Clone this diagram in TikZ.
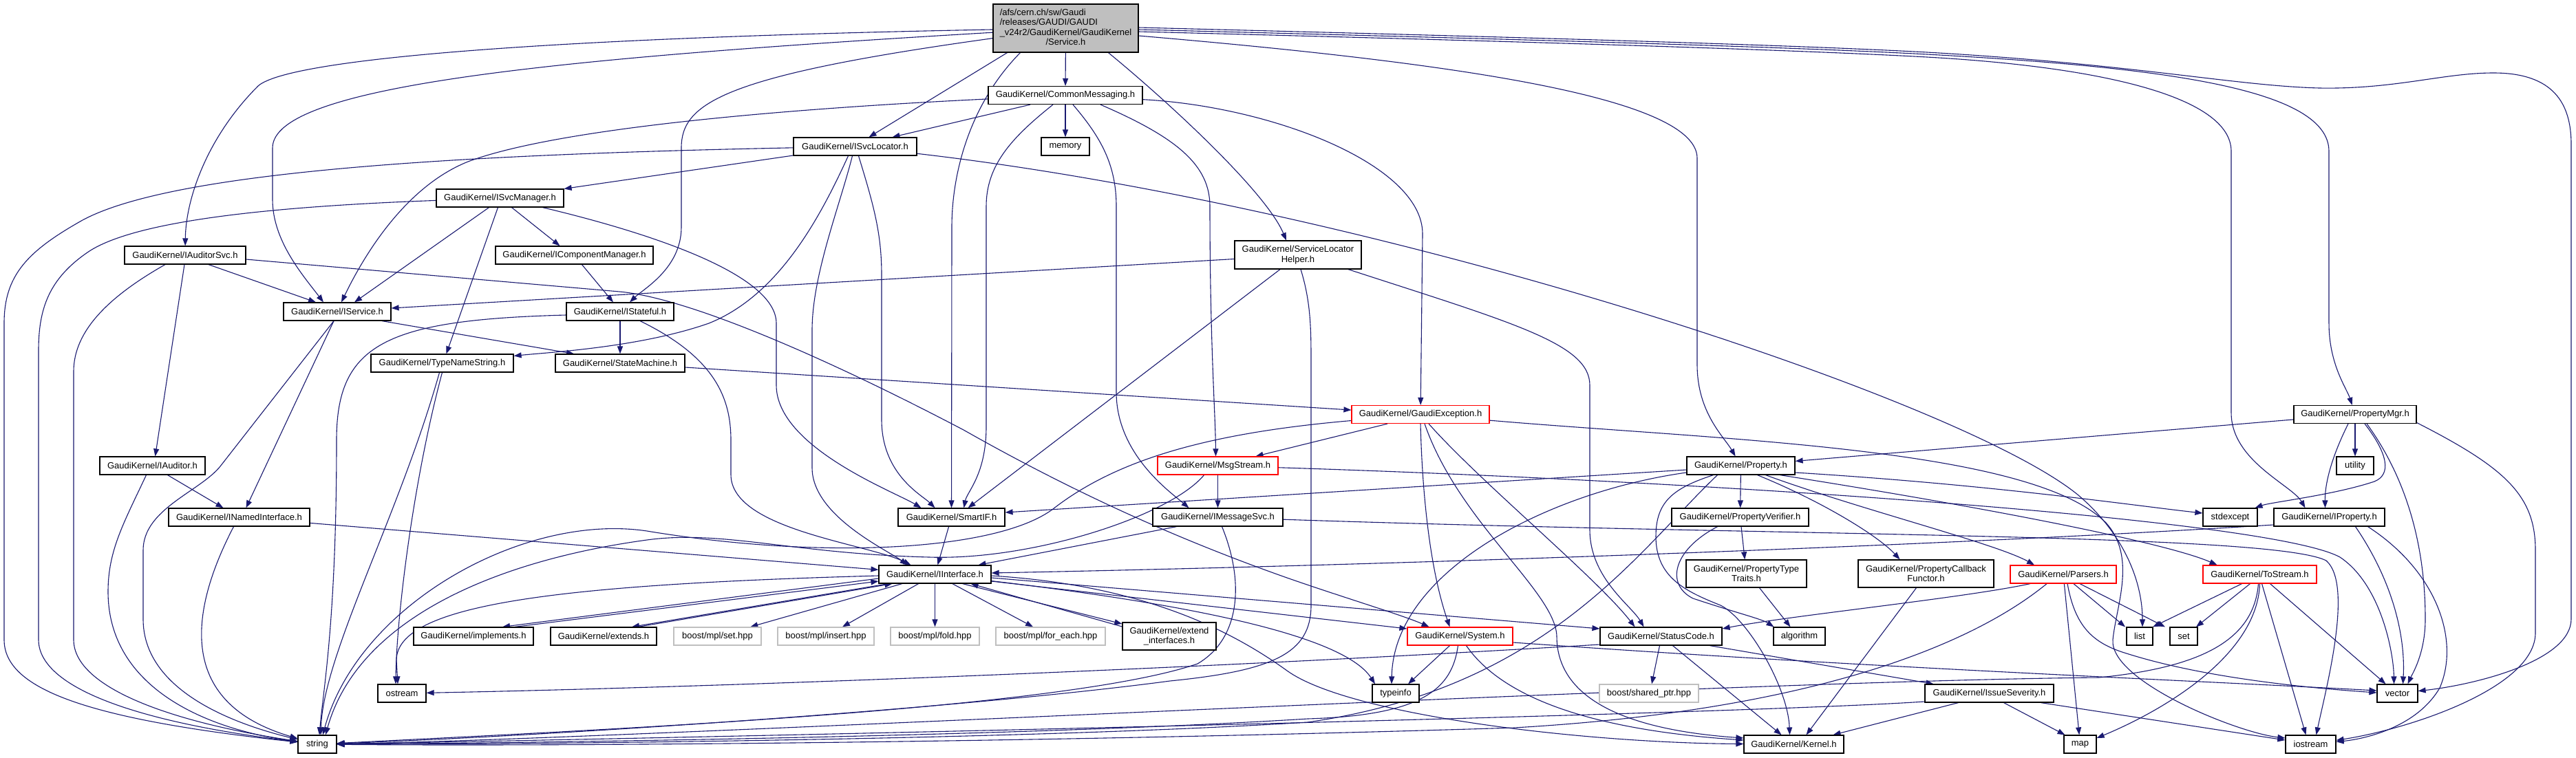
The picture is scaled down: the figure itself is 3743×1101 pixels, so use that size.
\documentclass[tikz,border=0pt]{standalone}
\usepackage{fontspec}
\setmainfont{Liberation Sans}
\usetikzlibrary{arrows.meta}
\definecolor{edgec}{HTML}{191970}
\definecolor{mgray}{HTML}{BFBFBF}
\definecolor{grayb}{HTML}{BFBFBF}
\definecolor{redb}{HTML}{FF0000}
\newcommand\nodefont{\fontsize{13}{14.3}\selectfont}
\pgfdeclarelayer{bg}
\pgfdeclarelayer{paper}
\pgfsetlayers{paper,bg,main}
\begin{document}
\begin{tikzpicture}[x=1pt,y=-1pt,
  nb/.style={draw=black,line width=1.2pt,fill=white,inner sep=0pt,minimum height=26pt,font=\nodefont,text=black},
  nbr/.style={nb,draw=redb},
  nbg/.style={nb,draw=grayb},
  e/.style={draw=edgec,line width=1.1pt,-{Triangle[length=11pt,width=8pt]}}]
\begin{pgfonlayer}{paper}
\fill[white] (0,0) rectangle (3743,1101);
\end{pgfonlayer}
\useasboundingbox (0,0) rectangle (3743,1101);
% ---------------- nodes
\node[nb,fill=mgray,minimum width=211pt,minimum height=70pt] (svc) at (1548.5,41) {\begin{tabular}{@{}l@{}}/afs/cern.ch/sw/Gaudi\\/releases/GAUDI/GAUDI\\\_v24r2/GaudiKernel/GaudiKernel\\\multicolumn{1}{@{}c@{}}{/Service.h}\end{tabular}};
\node[nb,minimum width=224pt] (CM) at (1548,138.5) {GaudiKernel/CommonMessaging.h};
\node[nb,minimum width=179pt] (ISL) at (1242.5,213) {GaudiKernel/ISvcLocator.h};
\node[nb,minimum width=70pt] (memory) at (1548,213) {memory};
\node[nb,minimum width=185pt] (ISM) at (726.5,288) {GaudiKernel/ISvcManager.h};
\node[nb,minimum width=176pt] (IAS) at (269,371) {GaudiKernel/IAuditorSvc.h};
\node[nb,minimum width=229pt] (ICM) at (834.5,371) {GaudiKernel/IComponentManager.h};
\node[nb,minimum width=184pt,minimum height=41pt,align=center] (SLH) at (1886,370.5) {GaudiKernel/ServiceLocator\\Helper.h};
\node[nb,minimum width=156pt] (ISv) at (490,453) {GaudiKernel/IService.h};
\node[nb,minimum width=156pt] (ISt) at (901,453) {GaudiKernel/IStateful.h};
\node[nb,minimum width=207pt] (TNS) at (642.5,528) {GaudiKernel/TypeNameString.h};
\node[nb,minimum width=188pt] (SM) at (901,528) {GaudiKernel/StateMachine.h};
\node[nbr,minimum width=200pt] (GE) at (2064,602.5) {GaudiKernel/GaudiException.h};
\node[nb,minimum width=178pt] (PM) at (3422,602.5) {GaudiKernel/PropertyMgr.h};
\node[nb,minimum width=153pt] (IA) at (221.5,677) {GaudiKernel/IAuditor.h};
\node[nbr,minimum width=175pt] (MS) at (1769.5,677) {GaudiKernel/MsgStream.h};
\node[nb,minimum width=157pt] (Prop) at (2529.5,677) {GaudiKernel/Property.h};
\node[nb,minimum width=54pt] (util) at (3422,677) {utility};
\node[nb,minimum width=205pt] (INI) at (347.5,752) {GaudiKernel/INamedInterface.h};
\node[nb,minimum width=155pt] (SIF) at (1382.5,752) {GaudiKernel/SmartIF.h};
\node[nb,minimum width=189pt] (IMS) at (1769.5,752) {GaudiKernel/IMessageSvc.h};
\node[nb,minimum width=199pt] (PV) at (2528.5,752) {GaudiKernel/PropertyVerifier.h};
\node[nb,minimum width=79pt] (stdx) at (3240.5,752) {stdexcept};
\node[nb,minimum width=161pt] (IP) at (3384.5,752) {GaudiKernel/IProperty.h};
\node[nb,minimum width=163pt] (II) at (1358.5,835) {GaudiKernel/IInterface.h};
\node[nb,minimum width=175pt,minimum height=40pt,align=center] (PTT) at (2537.5,834) {GaudiKernel/PropertyType\\Traits.h};
\node[nb,minimum width=197pt,minimum height=40pt,align=center] (PCF) at (2798.5,834) {GaudiKernel/PropertyCallback\\Functor.h};
\node[nbr,minimum width=154pt] (Pars) at (2998,835) {GaudiKernel/Parsers.h};
\node[nbr,minimum width=165pt] (TS) at (3283.5,835) {GaudiKernel/ToStream.h};
\node[nb,minimum width=174pt] (impl) at (688,925) {GaudiKernel/implements.h};
\node[nb,minimum width=154pt] (ext) at (877,925) {GaudiKernel/extends.h};
\node[nbg,minimum width=127pt] (bset) at (1042.5,925) {boost/mpl/set.hpp};
\node[nbg,minimum width=140pt] (bins) at (1200,925) {boost/mpl/insert.hpp};
\node[nbg,minimum width=129pt] (bfold) at (1358.5,925) {boost/mpl/fold.hpp};
\node[nbg,minimum width=159pt] (bfe) at (1526.5,925) {boost/mpl/for\_each.hpp};
\node[nb,minimum width=136pt,minimum height=40pt,align=center] (extI) at (1699,925) {GaudiKernel/extend\\\_interfaces.h};
\node[nbr,minimum width=153pt] (Sys) at (2121.5,925) {GaudiKernel/System.h};
\node[nb,minimum width=177pt] (SC) at (2413.5,925) {GaudiKernel/StatusCode.h};
\node[nb,minimum width=75pt] (algo) at (2614.5,925) {algorithm};
\node[nb,minimum width=38pt] (lst) at (3109,925) {list};
\node[nb,minimum width=40pt] (sset) at (3173,925) {set};
\node[nb,minimum width=70pt] (ostr) at (584,1008) {ostream};
\node[nb,minimum width=68pt] (tinfo) at (2028,1008) {typeinfo};
\node[nbg,minimum width=144pt] (bsp) at (2396,1008) {boost/shared\_ptr.hpp};
\node[nb,minimum width=187pt] (IS) at (2890.5,1008) {GaudiKernel/IssueSeverity.h};
\node[nb,minimum width=59pt] (vec) at (3483.5,1008) {vector};
\node[nb,minimum width=56pt] (str) at (461,1082) {string};
\node[nb,minimum width=145pt] (Ker) at (2606.5,1082) {GaudiKernel/Kernel.h};
\node[nb,minimum width=47pt] (map) at (3022.5,1082) {map};
\node[nb,minimum width=73pt] (iostr) at (3357.5,1082) {iostream};
% ---------------- edges
\begin{pgfonlayer}{bg}
% Service.h
\draw[e] (svc) .. controls (800,55) and (420,85) .. (375,125) .. controls (300,200) and (270,290) .. (IAS);
\draw[e] (svc) .. controls (800,85) and (396,125) .. (396,215) -- (396,290) .. controls (396,350) and (440,400) .. ([xshift=-20pt]ISv.north);
\draw[e] (svc) .. controls (1050,110) and (990,150) .. (990,215) -- (990,330) .. controls (990,390) and (935,420) .. (ISt);
\draw[e] ([xshift=-85pt]svc.south) -- ([xshift=20pt]ISL.north);
\draw[e] ([xshift=-66pt]svc.south) .. controls (1410,150) and (1383,250) .. (1383,330) -- (SIF);
\draw[e] (svc) -- (CM);
\draw[e] ([xshift=62pt]svc.south) .. controls (1700,150) and (1840,280) .. ([xshift=-17pt]SLH.north);
\draw[e] ([yshift=-11pt]svc.east) .. controls (2100,90) and (2466,140) .. (2466,230) -- (2466,530) .. controls (2466,600) and (2505,635) .. (Prop);
\draw[e] ([yshift=-5pt]svc.east) .. controls (2200,60) and (2600,72) .. (2800,83) .. controls (3050,97) and (3242,140) .. (3242,220) -- (3242,600) .. controls (3242,670) and (3330,705) .. ([xshift=-35pt]IP.north);
\draw[e] ([yshift=-2pt]svc.east) .. controls (2200,57) and (2600,68) .. (2800,79) .. controls (3150,98) and (3384,130) .. (3384,220) -- (3384,470) .. controls (3384,530) and (3410,565) .. (PM);
\draw[e] ([yshift=1pt]svc.east) .. controls (2200,54) and (2600,65) .. (2800,76) .. controls (3100,93) and (3250,125) .. (3370,128) .. controls (3480,130) and (3550,106) .. (3623,106) .. controls (3710,106) and (3736,150) .. (3736,210) -- (3736,900) .. controls (3736,960) and (3600,995) .. (vec);
% CommonMessaging
\draw[e] (CM) .. controls (1100,160) and (800,190) .. (680,235) .. controls (580,275) and (520,390) .. ([xshift=6pt]ISv.north);
\draw[e] ([xshift=-51pt]CM.south) -- ([xshift=54pt]ISL.north);
\draw[e] (CM) -- (memory);
\draw[e] ([xshift=-18pt]CM.south) .. controls (1470,200) and (1433,240) .. (1433,300) -- (1433,620) .. controls (1433,690) and (1405,715) .. ([xshift=18pt]SIF.north);
\draw[e] ([xshift=11pt]CM.south) .. controls (1600,200) and (1622,240) .. (1622,300) -- (1622,570) .. controls (1622,660) and (1700,715) .. ([xshift=-42pt]IMS.north);
\draw[e] ([xshift=51pt]CM.south) .. controls (1710,200) and (1758,240) .. (1758,300) .. controls (1758,500) and (1766,600) .. ([xshift=-3pt]MS.north);
\draw[e] (CM) .. controls (1850,155) and (2067,240) .. (2067,340) -- (GE);
% ISvcLocator
\draw[e] (ISL) .. controls (650,225) and (250,250) .. (120,320) .. controls (40,365) and (6,400) .. (6,470) -- (6,930) .. controls (6,1000) and (120,1045) .. (str);
\draw[e] (ISL) -- (ISM);
\draw[e] ([xshift=-10pt]ISL.south) .. controls (1190,320) and (1130,430) .. (1030,470) .. controls (930,505) and (800,512) .. (TNS);
\draw[e] ([xshift=-4pt]ISL.south) .. controls (1220,300) and (1180,400) .. (1180,480) -- (1180,680) .. controls (1180,750) and (1290,800) .. ([xshift=-40pt]II.north);
\draw[e] ([xshift=5pt]ISL.south) .. controls (1270,300) and (1281,340) .. (1281,400) -- (1281,610) .. controls (1281,690) and (1340,720) .. ([xshift=-24pt]SIF.north);
\draw[e] (ISL) .. controls (2000,300) and (2850,580) .. (3020,720) .. controls (3090,780) and (3113,850) .. ([xshift=4pt]lst.north);
% ISvcManager
\draw[e] (ISM) .. controls (400,300) and (200,320) .. (130,365) .. controls (70,405) and (56,450) .. (56,510) -- (56,930) .. controls (56,1000) and (200,1050) .. (str);
\draw[e] ([xshift=-16pt]ISM.south) -- ([xshift=25pt]ISv.north);
\draw[e] ([xshift=-3pt]ISM.south) -- ([xshift=6pt]TNS.north);
\draw[e] ([xshift=17pt]ISM.south) -- ([xshift=-21pt]ICM.north);
\draw[e] ([xshift=62pt]ISM.south) .. controls (950,340) and (1128,400) .. (1128,470) -- (1128,560) .. controls (1128,650) and (1300,715) .. ([xshift=-44pt]SIF.north);
% IAuditorSvc
\draw[e] ([xshift=-29pt]IAS.south) .. controls (160,430) and (107,480) .. (107,540) -- (107,930) .. controls (107,1000) and (250,1050) .. (str);
\draw[e] ([xshift=-1pt]IAS.south) -- ([xshift=4pt]IA.north);
\draw[e] ([xshift=34pt]IAS.south) -- ([xshift=-31pt]ISv.north);
\draw[e] ([yshift=-6pt]IAS.east) -- (900,424) .. controls (1000,433) and (1200,520) .. (1400,625) .. controls (1550,710) and (1700,780) .. (1870,840) .. controls (1950,868) and (2040,895) .. ([xshift=-45pt]Sys.north);
% IAuditor
\draw[e] ([xshift=-9pt]IA.south) .. controls (180,760) and (157,800) .. (157,860) .. controls (157,1000) and (300,1060) .. (str);
\draw[e] ([xshift=22pt]IA.south) -- ([xshift=-23pt]INI.north);
% IService
\draw[e] ([xshift=-5pt]ISv.south) -- (320,678) .. controls (290,715) and (208,740) .. (208,800) -- (208,900) .. controls (208,1000) and (330,1050) .. (str);
\draw[e] ([xshift=-5pt]ISv.south) -- ([xshift=10pt]INI.north);
\draw[e] ([xshift=65pt]ISv.south) -- ([xshift=-67pt]SM.north);
% IStateful
\draw[e] ([yshift=-5pt]ISt.west) .. controls (560,465) and (489,500) .. (489,640) .. controls (489,900) and (470,1000) .. ([xshift=3pt]str.north);
\draw[e] (ISt) -- (SM);
\draw[e] ([xshift=29pt]ISt.south) .. controls (1040,520) and (1062,580) .. (1062,640) -- (1062,690) .. controls (1062,770) and (1260,790) .. ([xshift=-35pt]II.north);
% IComponentManager
\draw[e] ([xshift=11pt]ICM.south) -- ([xshift=-10pt]ISt.north);
% ServiceLocatorHelper
\draw[e] ([yshift=-6pt]SLH.west) -- ([yshift=5pt]ISv.east);
\draw[e] ([xshift=-26pt]SLH.south) -- ([xshift=24pt]SIF.north);
\draw[e] ([xshift=4pt]SLH.south) .. controls (1905,440) and (1905,480) .. (1905,530) -- (1905,880) .. controls (1905,950) and (1850,975) .. (1700,990) .. controls (1400,1030) and (800,1070) .. (str);
\draw[e] ([xshift=73pt]SLH.south) .. controls (2200,470) and (2310,500) .. (2310,560) -- (2310,770) .. controls (2310,840) and (2370,880) .. ([xshift=-25pt]SC.north);
% TypeNameString
\draw[e] ([xshift=-4pt]TNS.south) .. controls (580,750) and (470,950) .. ([xshift=5pt]str.north);
\draw[e] (TNS.south) .. controls (600,700) and (576,900) .. ([xshift=-9pt]ostr.north);
% StateMachine
\draw[e] (SM) -- (GE);
% GaudiException
\draw[e] ([xshift=-48pt]GE.south) -- ([xshift=55pt]MS.north);
\draw[e] ([yshift=-9pt]GE.west) .. controls (1750,630) and (1620,670) .. (1530,740) .. controls (1450,800) and (1200,815) .. (940,772) .. controls (760,745) and (520,880) .. ([xshift=8pt]str.north);
\draw[e] (GE.south) .. controls (2066,700) and (2075,820) .. ([xshift=-15pt]Sys.north);
\draw[e] ([xshift=6pt]GE.south) .. controls (2120,760) and (2260,860) .. (2262,925) .. controls (2262,1010) and (2350,1060) .. ([yshift=9pt]Ker.west);
\draw[e] ([xshift=12pt]GE.south) .. controls (2150,700) and (2320,840) .. ([xshift=-38pt]SC.north);
\draw[e] (GE) .. controls (2500,640) and (2950,650) .. (3060,760) .. controls (3105,810) and (3075,880) .. (3070,930) .. controls (3065,990) and (3250,1065) .. ([yshift=9pt]iostr.west);
% MsgStream
\draw[e] (MS) -- (IMS);
\draw[e] ([xshift=-20pt]MS.south) .. controls (1700,750) and (1500,815) .. (1350,810) .. controls (1150,805) and (1050,770) .. (940,785) .. controls (720,815) and (520,900) .. ([xshift=12pt]str.north);
\draw[e] (MS) .. controls (2500,700) and (3300,755) .. (3400,810) .. controls (3460,850) and (3478,950) .. ([xshift=-5pt]vec.north);
% IMessageSvc
\draw[e] ([xshift=-60pt]IMS.south) -- ([xshift=63pt]II.north);
\draw[e] ([xshift=6pt]IMS.south) .. controls (1810,850) and (1800,930) .. (1740,965) .. controls (1550,1030) and (900,1060) .. (str);
\draw[e] (IMS) .. controls (2600,780) and (3300,775) .. (3380,815) .. controls (3420,850) and (3380,1000) .. ([xshift=8pt]iostr.north);
% SmartIF, INamedInterface
\draw[e] (SIF) -- (II);
\draw[e] (INI) -- (II);
\draw[e] ([xshift=-8pt]INI.south) .. controls (280,880) and (250,1020) .. (str);
% IInterface
\draw[e] ([yshift=-2pt]II.west) .. controls (800,850) and (576,880) .. (576,960) -- ([xshift=-6pt]ostr.north);
\draw[e] (II) .. controls (1700,875) and (1950,920) .. ([xshift=-30pt]tinfo.north);
\draw[e] ([yshift=-2pt]II.east) .. controls (1650,850) and (1780,910) .. (1870,975) .. controls (1960,1040) and (2300,1080) .. (Ker);
\draw[e] ([yshift=-5pt]II.east) -- ([yshift=11pt]SC.west);
\draw[e] ([yshift=-10pt]II.east) -- ([yshift=11pt]Sys.west);
\draw[e] (II) -- (bset);
\draw[e] (II) -- (bins);
\draw[e] (II) -- (bfold);
\draw[e] (II) -- (bfe);
\draw[e] ([yshift=-6pt]II.west) -- ([xshift=42pt]impl.north);
\draw[e] ([xshift=60pt]impl.north) -- ([yshift=-10pt]II.west);
\draw[e] ([xshift=-68pt]II.south) -- ([xshift=41pt]ext.north);
\draw[e] ([xshift=50pt]ext.north) -- ([xshift=-62pt]II.south);
\draw[e] ([xshift=40pt]II.south) -- ([yshift=18pt]extI.west);
\draw[e] ([yshift=14pt]extI.west) -- ([xshift=52pt]II.south);
% StatusCode
\draw[e] ([yshift=-12pt]SC.west) .. controls (1700,975) and (1000,1000) .. (ostr);
\draw[e] ([xshift=-2pt]SC.south) -- ([xshift=4pt]bsp.north);
\draw[e] ([xshift=17pt]SC.south) -- ([xshift=-18pt]Ker.north);
\draw[e] ([xshift=71pt]SC.south) -- ([xshift=-81pt]IS.north);
% System
\draw[e] ([xshift=-15pt]Sys.south) -- ([xshift=18pt]tinfo.north);
\draw[e] ([xshift=-3pt]Sys.south) .. controls (2110,1000) and (2070,1040) .. (1900,1045) .. controls (1500,1070) and (800,1080) .. (str);
\draw[e] ([xshift=9pt]Sys.south) .. controls (2180,1010) and (2300,1060) .. ([yshift=6pt]Ker.west);
\draw[e] ([yshift=-9pt]Sys.east) .. controls (2700,970) and (3200,990) .. ([yshift=4pt]vec.west);
% Property
\draw[e] ([yshift=-6pt]Prop.west) -- ([yshift=7pt]SIF.east);
\draw[e] ([yshift=-10pt]Prop.west) .. controls (2250,715) and (2025,830) .. ([xshift=-6pt]tinfo.north);
\draw[e] ([xshift=-34pt]Prop.south) .. controls (2380,800) and (2250,1000) .. (1900,1050) .. controls (1500,1075) and (800,1082) .. (str);
\draw[e] ([xshift=-40pt]Prop.south) .. controls (2430,710) and (2406,730) .. (2406,780) .. controls (2406,840) and (2450,860) .. (2500,880) .. controls (2540,900) and (2598,1000) .. ([xshift=-6pt]Ker.north);
\draw[e] (Prop) -- (PV);
\draw[e] ([xshift=24pt]Prop.south) .. controls (2650,730) and (2730,780) .. ([xshift=-38pt]PCF.north);
\draw[e] ([xshift=36pt]Prop.south) .. controls (2700,740) and (2900,790) .. ([xshift=-42pt]Pars.north);
\draw[e] ([xshift=57pt]Prop.south) .. controls (2900,740) and (3150,790) .. ([xshift=-62pt]TS.north);
\draw[e] ([yshift=-10pt]Prop.east) .. controls (2900,705) and (3100,735) .. ([yshift=6pt]stdx.west);
% PropertyVerifier, PropertyTypeTraits, PropertyCallbackFunctor
\draw[e] (PV) -- (PTT);
\draw[e] ([xshift=-33pt]PV.south) .. controls (2430,800) and (2420,850) .. (2460,870) .. controls (2520,890) and (2560,900) .. ([xshift=-37pt]algo.north);
\draw[e] ([xshift=19pt]PTT.south) -- ([xshift=-13pt]algo.north);
\draw[e] ([xshift=-14pt]PCF.south) -- ([xshift=18pt]Ker.north);
% Parsers
\draw[e] ([xshift=-48pt]Pars.south) .. controls (2850,870) and (2600,895) .. ([yshift=11pt]SC.east);
\draw[e] ([xshift=-24pt]Pars.south) .. controls (2850,950) and (2600,1035) .. (2200,1058) .. controls (1500,1080) and (800,1085) .. (str);
\draw[e] (Pars) -- (map);
\draw[e] ([xshift=6pt]Pars.south) .. controls (3015,910) and (3040,935) .. (3090,950) .. controls (3200,985) and (3350,1000) .. ([yshift=1pt]vec.west);
\draw[e] ([xshift=15pt]Pars.south) -- ([xshift=-21pt]lst.north);
\draw[e] ([xshift=24pt]Pars.south) -- ([xshift=-27pt]sset.north);
% ToStream
\draw[e] ([xshift=-26pt]TS.south) -- ([xshift=19pt]lst.north);
\draw[e] ([xshift=-14pt]TS.south) -- ([xshift=18pt]sset.north);
\draw[e] ([xshift=-2pt]TS.south) .. controls (3275,930) and (3200,970) .. (3050,985) .. controls (2500,990) and (900,1075) .. (str);
\draw[e] (TS.south) .. controls (3280,950) and (3150,1030) .. ([yshift=9pt]map.east);
\draw[e] ([xshift=3pt]TS.south) -- ([xshift=-7pt]iostr.north);
\draw[e] ([xshift=15pt]TS.south) -- ([xshift=-17pt]vec.north);
% IssueSeverity
\draw[e] ([xshift=21pt]IS.south) -- ([xshift=-22pt]map.north);
\draw[e] ([xshift=75pt]IS.south) -- ([yshift=6pt]iostr.west);
\draw[e] ([xshift=-45pt]IS.south) -- ([xshift=57pt]Ker.north);
\draw[e] ([yshift=-12pt]IS.west) .. controls (2500,1040) and (900,1075) .. (str);
% PropertyMgr
\draw[e] (PM) -- (Prop);
\draw[e] (PM) -- (util);
\draw[e] ([xshift=-10pt]PM.south) .. controls (3390,660) and (3378,700) .. ([xshift=-6pt]IP.north);
\draw[e] ([xshift=14pt]PM.south) .. controls (3470,660) and (3475,690) .. (3450,700) .. controls (3390,720) and (3300,730) .. ([xshift=36pt]stdx.north);
\draw[e] ([xshift=17pt]PM.south) .. controls (3500,700) and (3524,800) .. (3524,900) .. controls (3524,950) and (3505,980) .. ([xshift=15pt]vec.north);
\draw[e] ([yshift=-12pt]PM.east) .. controls (3640,680) and (3684,720) .. (3684,800) -- (3684,920) .. controls (3684,1000) and (3500,1060) .. (iostr);
% IProperty
\draw[e] ([yshift=-11pt]IP.west) .. controls (2800,795) and (2000,822) .. ([yshift=2pt]II.east);
\draw[e] ([xshift=38pt]IP.south) .. controls (3480,850) and (3495,930) .. ([xshift=8pt]vec.north);
\draw[e] ([xshift=56pt]IP.south) .. controls (3540,830) and (3575,930) .. (3545,1000) .. controls (3510,1060) and (3430,1075) .. (iostr);
\end{pgfonlayer}
\end{tikzpicture}
\end{document}
